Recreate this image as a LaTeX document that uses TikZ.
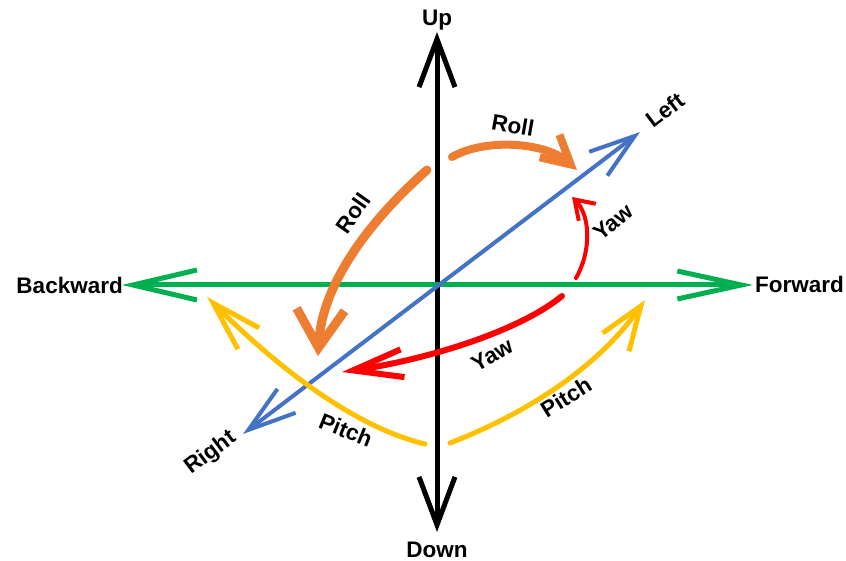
\documentclass[tikz,border=0pt]{standalone}
\usepackage{fontspec}
\setmainfont{Liberation Sans}
\usetikzlibrary{arrows.meta}
\definecolor{axisgreen}{HTML}{00B050}
\definecolor{axisblue}{HTML}{4472C4}
\definecolor{rollorange}{HTML}{ED7D31}
\definecolor{yawred}{HTML}{FF0000}
\definecolor{pitchyellow}{HTML}{FFC000}
\tikzset{
  lbl/.style={font=\fontsize{22.5}{24}\selectfont\bfseries,text=black,inner sep=0pt},
  axisline/.style={line width=5pt,line cap=round},
  turnline/.style={line width=5pt,line cap=round},
}
\begin{document}
\begin{tikzpicture}[x=1pt,y=-1pt]
\useasboundingbox (0,0) rectangle (846,561);
% end points of the axes
\coordinate (uptip) at (437,32);
\coordinate (downtip) at (437,532);
\coordinate (backtip) at (122,285);
\coordinate (fwdtip) at (753,285);
\coordinate (lefttip) at (640,132);
\coordinate (righttip) at (243,434);
% axis labels
\node[lbl] (up) at (437,20) {Up};
\node[lbl] (down) at (437,550) {Down};
\node[lbl,anchor=east] (back) at (123,285) {Backward};
\node[lbl,anchor=west] (fwd) at (755,284) {Forward};
\node[lbl,rotate=37] (left) at (665,110) {Left};
\node[lbl,rotate=37] (right) at (211,453) {Right};
% axes
\draw[axisline,draw=black,{Straight Barb[length=48pt,width=36pt]}-{Straight Barb[length=48pt,width=36pt]}] (downtip) -- (uptip);
\draw[axisline,draw=axisgreen,{Straight Barb[length=64pt,width=30pt]}-{Straight Barb[length=64pt,width=28pt]}] (backtip) -- (fwdtip);
\draw[axisline,line width=4pt,draw=axisblue,{Straight Barb[length=48pt,width=30pt]}-{Straight Barb[length=46pt,width=30pt]}] (righttip) -- (lefttip);
% roll
\coordinate (rollAs) at (452,157);
\coordinate (rollAe) at (577,170);
\coordinate (rollBs) at (427,170);
\coordinate (rollBe) at (318,356);
\draw[turnline,line width=8pt,draw=rollorange,-{Straight Barb[length=28pt,width=30pt]}] (rollAs) .. controls (485,138) and (545,142) .. (rollAe);
\draw[turnline,line width=9pt,draw=rollorange,-{Straight Barb[length=38pt,width=48pt]}] (rollBs) .. controls (368,222) and (322,285) .. (rollBe);
\node[lbl,rotate=-10] (rollA) at (513,125) {Roll};
\node[lbl,rotate=55] (rollB) at (353,213) {Roll};
% yaw
\coordinate (yawAs) at (576,278);
\coordinate (yawAe) at (572,197);
\coordinate (yawBs) at (562,296);
\coordinate (yawBe) at (342,372);
\draw[turnline,line width=4pt,draw=yawred,-{Straight Barb[length=18pt,width=24pt]}] (yawAs) .. controls (592,250) and (590,215) .. (yawAe);
\draw[turnline,line width=6pt,draw=yawred,-{Straight Barb[length=50pt,width=28pt]}] (yawBs) .. controls (518,332) and (425,360) .. (yawBe);
\node[lbl,rotate=40] (yawA) at (613,222) {Yaw};
\node[lbl,rotate=30] (yawB) at (492,355) {Yaw};
% pitch
\coordinate (pitchAs) at (425,444);
\coordinate (pitchAe) at (207,297);
\coordinate (pitchBs) at (450,443);
\coordinate (pitchBe) at (645,300);
\draw[turnline,line width=5pt,draw=pitchyellow,-{Straight Barb[length=50pt,width=30pt]}] (pitchAs) .. controls (345,425) and (262,352) .. (pitchAe);
\draw[turnline,line width=5pt,draw=pitchyellow,-{Straight Barb[length=44pt,width=32pt]}] (pitchBs) .. controls (530,412) and (600,365) .. (pitchBe);
\node[lbl,rotate=-22] (pitchA) at (346,430) {Pitch};
\node[lbl,rotate=32] (pitchB) at (566,397) {Pitch};
\end{tikzpicture}
\end{document}
